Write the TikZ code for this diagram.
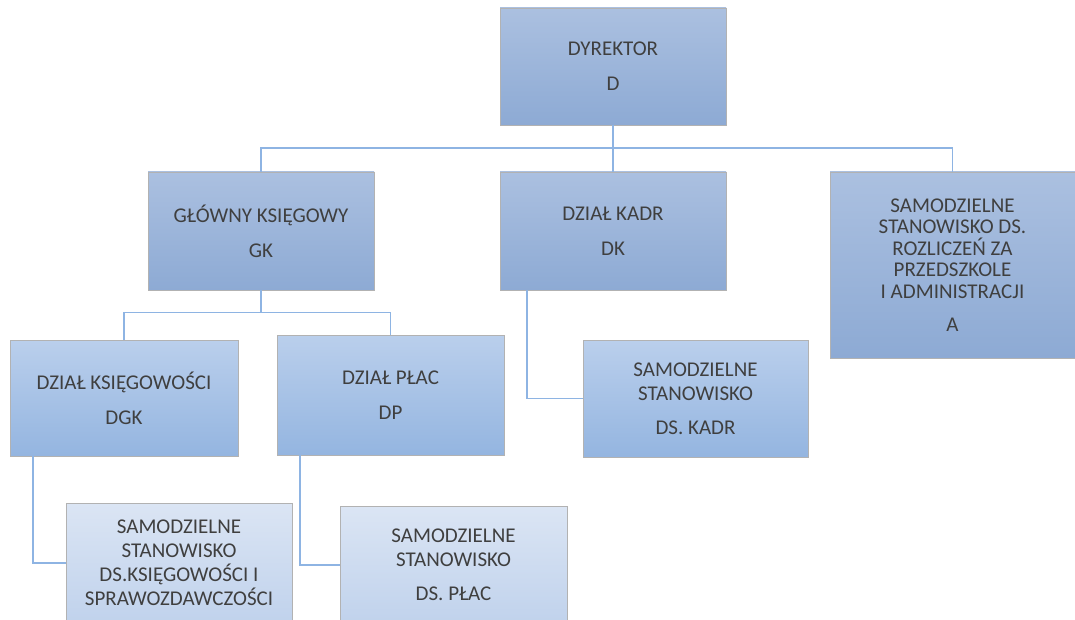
\documentclass[tikz,border=0pt]{standalone}
\usepackage{fontspec}
\setmainfont{Carlito}
\definecolor{txtgray}{HTML}{3F3F3F}
\definecolor{linkblue}{HTML}{8EB4E3}
\tikzstyle{unit}=[draw=gray!60, line width=.6pt, align=center, text=txtgray, inner sep=0pt, font=\fontsize{21}{24}\selectfont]
\tikzstyle{lvlone}=[unit, top color={rgb,255:red,171;green,192;blue,224}, bottom color={rgb,255:red,141;green,170;blue,212}]
\tikzstyle{lvltwo}=[unit, top color={rgb,255:red,186;green,207;blue,236}, bottom color={rgb,255:red,148;green,181;blue,224}]
\tikzstyle{lvlthree}=[unit, top color={rgb,255:red,219;green,229;blue,244}, bottom color={rgb,255:red,192;green,210;blue,236}]
\tikzstyle{link}=[draw=linkblue, line width=1.6pt]
\newcommand{\unit}{\node[unit]}

\begin{document}
\begin{tikzpicture}[x=1pt, y=-1pt]
\useasboundingbox (0,0) rectangle (1075,620);
% boxes
\node[lvlone, minimum width=226pt, minimum height=117pt] (D) at (613,66.5) {DYREKTOR\\[11pt]D};
\node[lvlone, minimum width=226pt, minimum height=118pt] (GK) at (261,231) {GŁÓWNY KSIĘGOWY\\[11pt]GK};
\node[lvlone, minimum width=226pt, minimum height=118pt] (DK) at (613,231) {DZIAŁ KADR\\[11pt]DK};
\node[lvlone, minimum width=245pt, minimum height=186pt, font=\fontsize{21}{21.5}\selectfont] (A) at (952.5,265) {SAMODZIELNE\\STANOWISKO DS.\\ROZLICZEŃ ZA\\PRZEDSZKOLE\\I ADMINISTRACJI\\[12pt]A};
\node[lvltwo, minimum width=228pt, minimum height=116pt] (DGK) at (124,398) {DZIAŁ KSIĘGOWOŚCI\\[11pt]DGK};
\node[lvltwo, minimum width=227pt, minimum height=120pt] (DP) at (390.5,395) {DZIAŁ PŁAC\\[11pt]DP};
\node[lvltwo, minimum width=225pt, minimum height=117pt] (SDK) at (695.5,398.5) {SAMODZIELNE\\STANOWISKO\\[10pt]DS. KADR};
\node[lvlthree, minimum width=226pt, minimum height=120pt] (SDGK) at (179,563) {SAMODZIELNE\\STANOWISKO\\DS.KSIĘGOWOŚCI I\\SPRAWOZDAWCZOŚCI};
\node[lvlthree, minimum width=227pt, minimum height=118pt] (SDP) at (453.5,565) {SAMODZIELNE\\STANOWISKO\\[10pt]DS. PŁAC};
% connectors
\coordinate (busD) at ([yshift=-23pt]D.south);
\coordinate (busGK) at ([yshift=-22pt]GK.south);
\draw[link] (D.south) -- (DK.north);
\draw[link] (GK.north) |- (busD) -| (A.north);
\draw[link] (GK.south) -- (busGK);
\draw[link] (DGK.north) |- (busGK) -| (DP.north);
\draw[link] ([xshift=27pt]DK.south west) |- (SDK.west);
\draw[link] ([xshift=23pt]DGK.south west) |- (SDGK.west);
\draw[link] ([xshift=23pt]DP.south west) |- (SDP.west);
\end{tikzpicture}
\end{document}
